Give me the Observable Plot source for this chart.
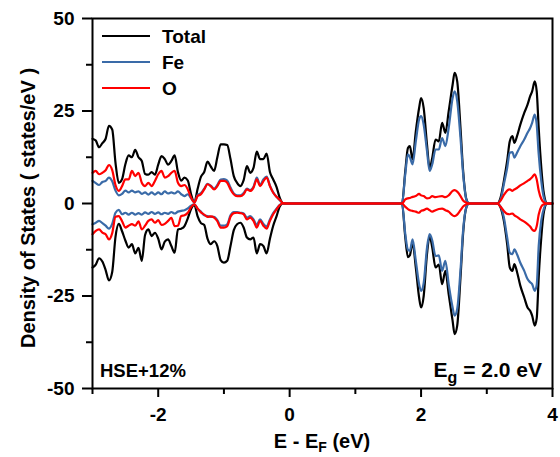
<!DOCTYPE html>
<html><head><meta charset="utf-8">
<script src="https://cdn.jsdelivr.net/npm/d3@7"></script>
<script src="https://cdn.jsdelivr.net/npm/@observablehq/plot@0.6"></script>
<style>body{margin:0;background:#fff;}</style>
</head><body><div id="chart"></div>
<script>
// ---- Energies (eV, relative to E_F) ----
const energyVB = [-3.00,-2.95,-2.90,-2.85,-2.80,-2.75,-2.70,-2.65,-2.60,-2.55,-2.50,-2.45,-2.40,-2.35,-2.30,-2.25,-2.20,-2.15,-2.10,-2.05,-2.00,-1.95,-1.90,-1.85,-1.80,-1.75,-1.70,-1.65,-1.60,-1.55,-1.50,-1.45,-1.40,-1.35,-1.30,-1.25,-1.20,-1.15,-1.10,-1.05,-1.00,-0.95,-0.90,-0.85,-0.80,-0.75,-0.70,-0.65,-0.60,-0.55,-0.50,-0.45,-0.40,-0.35,-0.30,-0.25,-0.20,-0.15,-0.10,-0.05];
const energyCB1 = [1.71,1.76,1.80,1.83,1.87,1.92,1.97,2.00,2.04,2.09,2.13,2.17,2.22,2.27,2.32,2.37,2.42,2.48,2.51,2.55,2.60,2.64,2.69,2.73];
const energyCB2 = [3.16,3.21,3.26,3.31,3.35,3.39,3.42,3.46,3.51,3.57,3.62,3.66,3.69,3.73,3.76,3.79,3.83,3.87,3.92];
const energyEdge = [4.0];
const edgeValue = [0];

// ---- Total DOS ----
const totalUpVB = [17.5,17.0,15.2,16.3,17.5,21.0,20.0,11.0,5.6,6.6,10.6,13.0,12.5,14.5,12.5,11.5,8.0,7.8,8.5,7.8,10.5,12.8,12.0,10.5,11.5,13.0,8.5,6.2,7.0,6.2,2.5,0.3,4.0,7.2,8.5,11.3,10.0,8.8,12.5,16.0,16.0,15.8,12.0,7.4,5.6,4.7,6.3,10.1,8.3,9.6,14.0,12.0,12.0,13.5,8.5,6.5,4.5,1.5,0.1,0];
const totalDnVB = [-17.3,-16.5,-14.8,-15.7,-18.0,-20.8,-18.5,-9.0,-5.5,-7.5,-10.0,-11.9,-11.0,-13.5,-12.0,-15.5,-8.5,-7.0,-8.8,-7.9,-9.5,-12.4,-10.3,-9.7,-11.5,-13.3,-7.0,-6.8,-6.1,-4.0,-1.5,-0.4,-3.5,-5.3,-5.8,-9.5,-11.0,-10.2,-11.5,-15.3,-16.0,-15.5,-11.5,-7.2,-5.6,-5.2,-6.5,-9.2,-9.7,-9.2,-13.5,-11.0,-11.5,-13.5,-9.5,-6.0,-3.5,-0.8,0,0];
const totalUpCB1 = [0,8.8,15.0,15.5,11.9,19.5,25.8,28.5,25.8,16.0,9.6,12.3,17.3,16.8,21.8,19.1,24.9,32.1,35.3,33.0,20.4,8.8,1.1,0];
const totalDnCB1 = [0,-9.2,-14.5,-14.0,-10.6,-17.3,-25.4,-28.1,-25.0,-13.7,-8.8,-11.9,-17.3,-16.5,-21.8,-18.2,-24.5,-31.7,-35.3,-33.0,-20.0,-8.0,-1.0,0];
const totalUpCB2 = [0,1.6,6.1,11.5,16.8,18.2,16.4,18.2,21.3,24.5,26.7,29.0,30.3,33.0,30.3,20.4,9.6,2.5,0];
const totalDnCB2 = [0,-1.1,-4.7,-11.0,-17.3,-18.2,-16.4,-18.5,-22.2,-25.4,-28.1,-29.0,-30.3,-33.0,-31.0,-20.0,-9.0,-2.2,0];

// ---- Fe PDOS ----
const feUpVB = [6.1,5.5,5.0,5.8,6.1,7.0,6.0,3.5,2.2,2.6,3.5,3.0,3.5,3.0,3.3,2.6,3.0,2.4,3.0,2.4,3.0,2.5,3.3,2.7,3.0,2.7,3.3,2.5,2.0,2.5,1.4,0.3,2.3,2.8,4.0,5.3,4.8,4.0,5.0,6.5,6.6,6.2,4.3,2.7,2.2,2.2,2.8,4.0,3.6,4.5,7.0,5.0,6.5,7.3,4.8,3.0,1.8,0.9,0.1,0];
const feDnVB = [-5.6,-5.2,-4.7,-5.3,-6.0,-6.8,-5.5,-2.5,-1.7,-2.9,-2.5,-3.0,-2.5,-3.0,-2.6,-3.0,-2.4,-2.8,-2.3,-2.8,-2.4,-2.9,-2.5,-2.8,-2.3,-2.7,-2.2,-2.0,-1.8,-1.3,-0.6,-0.2,-1.4,-2.2,-3.2,-3.4,-3.6,-3.6,-4.5,-6.0,-6.0,-5.6,-3.2,-2.3,-2.3,-2.5,-2.7,-3.8,-3.4,-4.3,-5.8,-4.3,-5.5,-6.2,-4.3,-2.6,-1.4,-0.4,0,0];
const feUpCB1 = [0,8.0,13.3,12.5,10.6,16.8,22.7,23.6,21.3,14.2,8.8,10.6,14.6,14.6,17.7,15.5,20.4,28.5,30.3,27.7,17.7,8.0,1.0,0];
const feDnCB1 = [0,-8.3,-12.5,-12.8,-9.7,-15.5,-21.8,-23.6,-21.5,-12.0,-8.3,-10.0,-14.2,-14.0,-18.2,-15.5,-21.8,-28.1,-30.3,-28.5,-18.0,-7.2,-1.0,0];
const feUpCB2 = [0,1.0,5.2,9.6,13.7,13.9,12.4,13.7,15.5,17.3,19.1,20.4,21.8,24.0,21.3,13.3,6.0,1.5,0];
const feDnCB2 = [0,-0.8,-3.8,-9.2,-13.3,-13.7,-12.4,-13.7,-16.0,-18.2,-20.4,-21.3,-21.8,-23.6,-22.0,-11.5,-4.5,-1.3,0];

// ---- O PDOS ----
const oUpVB = [8.3,8.8,7.9,8.3,9.0,10.4,9.0,5.0,3.4,4.7,6.5,6.5,8.8,7.4,8.3,5.6,4.7,5.6,4.7,6.1,7.9,8.8,7.0,7.4,8.3,8.8,5.6,4.7,5.0,3.8,1.6,0.3,2.0,2.5,3.8,5.2,4.7,3.8,4.7,6.1,6.1,5.6,3.8,2.5,2.0,2.0,2.5,3.8,3.4,4.3,6.5,4.7,6.0,7.0,4.7,2.9,1.8,1.0,0.1,0];
const oDnVB = [-8.3,-7.4,-7.0,-7.9,-8.3,-9.7,-8.0,-3.6,-3.4,-4.8,-6.5,-6.0,-5.6,-6.0,-4.8,-7.0,-6.0,-4.7,-4.3,-5.2,-4.5,-5.8,-5.5,-4.7,-3.9,-6.1,-6.0,-3.4,-3.2,-2.5,-1.0,-0.2,-1.4,-2.4,-3.0,-3.6,-3.5,-3.8,-4.8,-6.5,-6.5,-6.1,-3.6,-2.6,-2.5,-2.6,-2.9,-4.3,-3.8,-4.7,-6.5,-4.7,-6.0,-6.8,-4.7,-2.9,-1.6,-0.4,0,0];
const oUpCB1 = [0,1.1,1.4,1.5,1.8,2.0,2.6,2.2,2.0,1.4,1.5,2.0,1.7,1.9,2.0,1.7,2.2,3.4,3.6,3.2,2.0,0.8,0.2,0];
const oDnCB1 = [0,-0.9,-1.5,-1.8,-2.0,-2.2,-2.5,-2.0,-1.8,-1.4,-1.8,-2.2,-1.8,-1.5,-1.4,-1.8,-2.2,-3.2,-3.4,-3.0,-1.8,-0.8,-0.2,0];
const oUpCB2 = [0,0.8,2.3,3.5,3.8,3.4,3.8,4.2,4.9,5.5,6.1,6.6,7.1,7.9,6.5,3.5,1.2,0.3,0];
const oDnCB2 = [0,-0.9,-2.0,-2.8,-2.9,-2.7,-3.2,-3.6,-4.3,-4.9,-5.6,-6.2,-7.0,-7.4,-6.1,-3.0,-0.8,-0.2,0];

// ---- Axis ticks / labels ----
const xMajorTicks = [-2, 0, 2, 4];
const xMinorTicks = [-3, -1, 1, 3];
const yMajorTicks = [-50, -25, 0, 25, 50];
const yMinorTicks = [-37.5, -12.5, 12.5, 37.5];
const seriesNames = ["Total", "Fe", "O"];
const seriesColors = ["#000000", "#3a6ba8", "#ff0000"];

function build(vb, cb1, cb2, spin) {
  const energies = [...energyVB, ...energyCB1, ...energyCB2, ...energyEdge];
  const values = [...vb, ...cb1, ...cb2, ...edgeValue];
  return energies.map((E, i) => ({E, v: values[i], spin}));
}
const totalData = [...build(totalUpVB, totalUpCB1, totalUpCB2, "up"), ...build(totalDnVB, totalDnCB1, totalDnCB2, "down")];
const feData = [...build(feUpVB, feUpCB1, feUpCB2, "up"), ...build(feDnVB, feDnCB1, feDnCB2, "down")];
const oData = [...build(oUpVB, oUpCB1, oUpCB2, "up"), ...build(oDnVB, oDnCB1, oDnCB2, "down")];

const FONT = "'Liberation Sans', Arial, Helvetica, sans-serif";
const fmt = d => String(d);

const plot = Plot.plot({
  width: 560, height: 457,
  marginLeft: 92, marginRight: 8, marginTop: 18, marginBottom: 69,
  x: {domain: [-3, 4]},
  y: {domain: [-50, 50]},
  style: {fontFamily: FONT, fontSize: "19px", fontWeight: "bold", background: "white", color: "black"},
  marks: [
    Plot.line(totalData, {x: "E", y: "v", z: "spin", stroke: seriesColors[0], strokeWidth: 2.2, curve: "monotone-x"}),
    Plot.line(feData, {x: "E", y: "v", z: "spin", stroke: seriesColors[1], strokeWidth: 2.2, curve: "monotone-x"}),
    Plot.line(oData, {x: "E", y: "v", z: "spin", stroke: seriesColors[2], strokeWidth: 2.2, curve: "monotone-x"}),
    Plot.frame({stroke: "black", strokeWidth: 2}),
    Plot.axisX(xMajorTicks, {tickSize: 9, tickPadding: 10, strokeWidth: 2, tickFormat: fmt, label: null}),
    Plot.axisX(xMinorTicks, {tickSize: 6, strokeWidth: 2, tickFormat: () => "", label: null}),
    Plot.axisY(yMajorTicks, {tickSize: 10, tickPadding: 8, strokeWidth: 2, tickFormat: fmt, label: null}),
    Plot.axisY(yMinorTicks, {tickSize: 6, strokeWidth: 2, tickFormat: () => "", label: null})
  ]
});
document.getElementById("chart").appendChild(plot);

const svg = d3.select(plot);
// Y axis title
svg.append("text")
  .attr("transform", "translate(35,208) rotate(-90)")
  .attr("text-anchor", "middle")
  .attr("font-size", 20).attr("font-weight", "bold").attr("font-family", FONT)
  .text("Density of States ( states/eV )");
// X axis title
const xt = svg.append("text")
  .attr("x", 322).attr("y", 448)
  .attr("text-anchor", "middle")
  .attr("font-size", 20).attr("font-weight", "bold").attr("font-family", FONT);
xt.append("tspan").text("E - E");
xt.append("tspan").attr("dy", 4).attr("font-size", 14).text("F");
xt.append("tspan").attr("dy", -4).text(" (eV)");
// Annotations
svg.append("text")
  .attr("x", 100).attr("y", 377)
  .attr("text-anchor", "start")
  .attr("font-size", 18.5).attr("font-weight", "bold").attr("font-family", FONT)
  .text("HSE+12%");
const eg = svg.append("text")
  .attr("x", 542).attr("y", 377)
  .attr("text-anchor", "end")
  .attr("font-size", 21).attr("font-weight", "bold").attr("font-family", FONT);
eg.append("tspan").text("E");
eg.append("tspan").attr("dy", 6).attr("font-size", 16).text("g");
eg.append("tspan").attr("dy", -6).text(" = 2.0 eV");
// Legend
const leg = svg.append("g");
seriesNames.forEach((name, i) => {
  const y = 36 + i * 26;
  leg.append("line").attr("x1", 102).attr("x2", 150).attr("y1", y).attr("y2", y)
    .attr("stroke", seriesColors[i]).attr("stroke-width", 2);
  leg.append("text").attr("x", 162).attr("y", y + 7)
    .attr("text-anchor", "start")
    .attr("font-size", 19).attr("font-weight", "bold").attr("font-family", FONT)
    .text(name);
});
</script>
</body></html>
